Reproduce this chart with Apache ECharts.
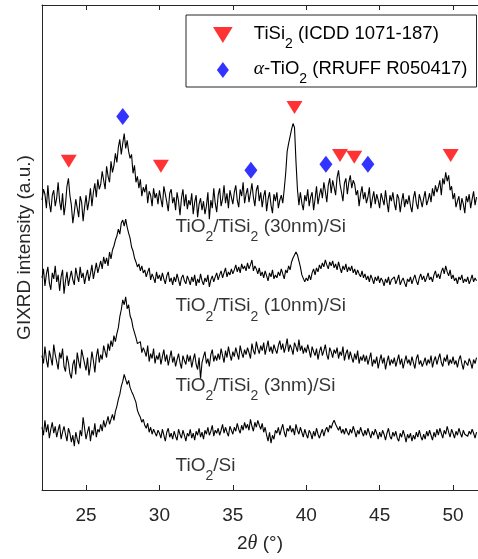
<!DOCTYPE html>
<html>
<head>
<meta charset="utf-8">
<script src="https://cdn.jsdelivr.net/npm/echarts@6/dist/echarts.min.js"></script>
<style>
  html, body { margin: 0; padding: 0; background: #fff; }
  #chart { width: 478px; height: 559px; }
</style>
</head>
<body>
<div id="chart"></div>
<script>
// GIXRD scans: 2θ from 22.0° in 0.1° steps, stacked intensities (a.u.)
const scanStart = 22.0;
const scanStep = 0.1;

const scanTiSi2_30nm = [
  291, 302, 297, 283, 306, 288, 279, 296, 301, 285,
  293, 309, 290, 281, 298, 276, 287, 305, 313, 296,
  286, 268, 279, 292, 283, 274, 295, 289, 270, 284,
  296, 281, 290, 303, 285, 299, 308, 294, 312, 302,
  307, 320, 311, 302, 325, 315, 309, 330, 319, 326,
  338, 329, 344, 352, 337, 348, 358, 343, 351, 340,
  333, 337, 318, 326, 309, 315, 303, 312, 295, 304,
  299, 307, 288, 300, 296, 285, 303, 293, 298, 287,
  301, 292, 284, 305, 297, 289, 280, 298, 302, 288,
  294, 281, 299, 290, 276, 293, 302, 285, 297, 282,
  291, 286, 298, 277, 289, 296, 274, 287, 293, 281,
  290, 277, 285, 299, 272, 291, 283, 303, 288, 279,
  296, 303, 285, 292, 306, 288, 298, 283, 301, 294,
  287, 299, 306, 291, 284, 302, 295, 309, 288, 297,
  303, 289, 298, 308, 294, 285, 301, 306, 290, 299,
  284, 295, 301, 280, 292, 299, 286, 278, 297, 290,
  299, 283, 291, 296, 288, 302, 318, 340, 348, 355,
  362, 368, 364, 330, 302, 286, 299, 288, 281, 296,
  290, 302, 285, 294, 299, 281, 292, 305, 287, 296,
  303, 293, 309, 300, 289, 306, 313, 298, 311, 304,
  296, 314, 321, 307, 299, 290, 308, 313, 297, 309,
  316, 303, 311, 307, 296, 301, 285, 297, 305, 292,
  299, 288, 294, 304, 283, 292, 300, 287, 297, 291,
  283, 298, 292, 286, 301, 289, 279, 296, 290, 299,
  288, 281, 297, 293, 279, 290, 298, 284, 292, 287,
  296, 285, 279, 293, 300, 288, 282, 297, 291, 284,
  293, 300, 286, 291, 298, 289, 303, 295, 306, 299,
  304, 311, 296, 313, 307, 319, 310, 316, 301, 305,
  292, 298, 284, 290, 295, 281, 293, 287, 278, 295,
  289, 297, 283, 292, 300, 286, 294
];

const scanTiSi2_10nm = [
  213, 222, 205, 217, 224, 208, 201, 218, 212, 225,
  209, 216, 200, 214, 221, 197, 210, 219, 205, 213,
  220, 211, 206, 223, 215, 209, 224, 213, 218, 207,
  215, 221, 210, 217, 226, 212, 220, 228, 218, 224,
  230, 222, 234, 227, 233, 225, 239, 232, 241, 245,
  251, 255, 262, 257, 268, 271, 265, 272, 264, 258,
  253, 244, 240, 233, 229, 224, 227, 220, 225, 218,
  221, 214, 219, 223, 211, 217, 213, 208, 219, 212,
  216, 210, 218, 212, 207, 215, 219, 209, 213, 206,
  214, 209, 217, 211, 205, 213, 216, 210, 207, 215,
  211, 206, 214, 209, 216, 205, 212, 208, 217, 210,
  206, 213, 209, 216, 204, 211, 215, 209, 214, 218,
  211, 216, 220, 213, 218, 223, 214, 219, 216, 222,
  217, 221, 226, 219, 224, 218, 227, 222, 225, 220,
  228, 222, 226, 231, 220, 225, 222, 217, 223, 215,
  219, 213, 220, 215, 210, 218, 214, 221, 212, 216,
  213, 219, 215, 222, 217, 212, 221, 218, 225, 221,
  229, 233, 236, 239, 236, 230, 224, 216, 218, 209,
  213, 210, 216, 211, 218, 222, 216, 223, 219, 226,
  222, 228, 224, 231, 226, 222, 229, 225, 230, 223,
  227, 221, 229, 223, 218, 225, 221, 227, 219, 224,
  220, 225, 218, 222, 216, 221, 217, 214, 220, 213,
  217, 211, 215, 209, 216, 212, 207, 214, 210, 215,
  208, 213, 210, 205, 212, 208, 214, 206, 211, 209,
  214, 207, 211, 216, 206, 210, 213, 208, 204, 212,
  209, 214, 207, 212, 216, 210, 206, 213, 217, 211,
  215, 209, 213, 218, 211, 214, 209, 216, 220, 213,
  217, 212, 219, 223, 217, 225, 219, 215, 221, 212,
  216, 210, 213, 207, 214, 211, 216, 208, 212, 209,
  214, 207, 211, 216, 209, 213, 210
];

const scanTiSi2_3nm = [
  135, 127, 144, 131, 123, 140, 133, 125, 146, 136,
  129, 121, 138, 132, 142, 124, 119, 135, 128, 117,
  112, 126, 131, 116, 138, 129, 122, 141, 134, 127,
  120, 133, 115, 125, 139, 130, 118, 134, 142, 128,
  136, 131, 145, 139, 133, 147, 140, 150, 144, 155,
  149, 157, 163, 174, 181, 191, 186, 194, 182, 186,
  175, 171, 163, 158, 153, 147, 145, 149, 138, 143,
  139, 134, 145, 129, 137, 132, 142, 127, 135, 131,
  138, 126, 134, 141, 129, 136, 125, 133, 140, 128,
  134, 124, 131, 137, 128, 122, 135, 130, 126, 136,
  129, 135, 123, 131, 137, 126, 121, 133, 112, 128,
  134, 139, 127, 132, 124, 136, 141, 129, 135, 130,
  137, 131, 142, 135, 128, 140, 133, 144, 136, 130,
  139, 134, 143, 137, 131, 145, 138, 133, 141, 136,
  143, 138, 132, 147, 140, 136, 149, 142, 137, 145,
  140, 148, 136, 143, 150, 139, 144, 137, 146, 141,
  137, 145, 150, 141, 147, 138, 144, 152, 139, 146,
  142, 136, 148, 144, 139, 151, 140, 145, 137, 143,
  138, 146, 140, 133, 144, 139, 135, 142, 131, 139,
  144, 135, 140, 146, 136, 131, 143, 139, 133, 141,
  137, 143, 132, 139, 135, 144, 130, 137, 141, 131,
  139, 133, 128, 137, 131, 140, 127, 134, 130, 136,
  129, 135, 126, 132, 138, 124, 131, 127, 134, 122,
  130, 136, 127, 133, 121, 129, 135, 125, 131, 127,
  133, 124, 130, 136, 126, 132, 122, 129, 135, 127,
  131, 125, 134, 128, 122, 132, 136, 126, 130, 124,
  128, 133, 125, 131, 127, 135, 123, 130, 134, 126,
  132, 137, 128, 124, 133, 129, 136, 125, 131, 127,
  134, 126, 130, 123, 131, 135, 127, 121, 130, 128,
  125, 132, 128, 122, 131, 127, 133
];

const scanTiO2_Si = [
  63, 55, 70, 58, 66, 52, 61, 68, 57, 64,
  53, 60, 66, 51, 58, 64, 56, 49, 62, 57,
  48, 55, 44, 58, 51, 46, 60, 54, 73, 62,
  51, 58, 64, 49, 60, 55, 67, 53, 61, 58,
  66, 59, 70, 63, 68, 74, 66, 71, 76, 70,
  79, 84, 91, 96, 104, 109, 116, 111, 106, 110,
  103, 99, 96, 92, 88, 80, 76, 73, 68, 71,
  65, 62, 67, 58, 63, 56, 61, 59, 54, 60,
  57, 52, 61, 55, 49, 58, 62, 53, 57, 51,
  59, 54, 50, 61, 56, 52, 60, 55, 49, 57,
  54, 61, 52, 57, 50, 59, 55, 62, 53, 58,
  51, 60, 56, 63, 55, 59, 65, 54, 60, 57,
  62, 55, 60, 66, 57, 63, 58, 54, 64, 60,
  56, 63, 59, 67, 61, 57, 65, 60, 68, 62,
  66, 60, 71, 64, 59, 68, 63, 70, 65, 61,
  67, 58, 63, 55, 49, 58, 47, 55, 51, 60,
  57, 63, 55, 61, 66, 58, 53, 62, 59, 65,
  58, 62, 55, 66, 60, 56, 63, 58, 53, 61,
  56, 52, 60, 57, 51, 59, 54, 62, 56, 52,
  57, 61, 54, 60, 63, 58, 65, 62, 67, 70,
  66, 63, 60, 64, 57, 61, 56, 62, 58, 55,
  61, 57, 64, 59, 53, 60, 56, 63, 58, 54,
  60, 55, 62, 57, 52, 59, 55, 61, 57, 51,
  58, 53, 60, 56, 50, 57, 62, 54, 51, 58,
  54, 59, 52, 49, 57, 53, 60, 55, 48, 56,
  52, 57, 49, 55, 51, 58, 53, 60, 54, 50,
  56, 51, 59, 54, 60, 55, 50, 58, 53, 61,
  55, 62, 57, 52, 60, 56, 64, 58, 53, 61,
  57, 52, 59, 55, 62, 57, 53, 60, 56, 58,
  54, 59, 56, 61, 57, 52, 58
];

// Reference peak positions [2θ, marker height]
const tiSi2Peaks = [[23.82, 330], [30.1, 325], [39.2, 384], [42.3, 336], [43.27, 334], [49.84, 336]];
const tiO2Peaks = [[27.5, 375], [36.23, 321], [41.34, 327], [44.2, 327]];

// Sample names placed beneath each scan [2θ, height, name]
const sampleLabels = [
  [31.1, 263, 'TiO{s|2}/TiSi{s|2} (30nm)/Si'],
  [31.1, 183, 'TiO{s|2}/TiSi{s|2} (10nm)/Si'],
  [31.1, 103, 'TiO{s|2}/TiSi{s|2} (3nm)/Si'],
  [31.1, 23, 'TiO{s|2}/Si']
];

const tickValues = [25, 30, 35, 40, 45, 50];

const FONT = 'Liberation Sans';
const INK = '#262626';

function toPoints(values) {
  return values.map((v, i) => [+(scanStart + i * scanStep).toFixed(2), v]);
}

// rich-text styles: n = normal run, s = subscript, g = Greek letter
function richStyles(size) {
  return {
    s: { fontSize: Math.round(size * 0.74), fontFamily: FONT, color: '#000', padding: [13, 0, 0, 0], verticalAlign: 'top', lineHeight: 16 },
    n: { fontSize: size, fontFamily: FONT, color: '#000', verticalAlign: 'top', lineHeight: 22 },
    g: { fontSize: size + 1, fontFamily: 'Liberation Serif', fontStyle: 'italic', color: '#000', verticalAlign: 'top', lineHeight: 22 }
  };
}

function wrapPlain(str) {
  // wrap the plain runs between subscripts so every run shares the same line alignment
  return str.split(/(\{[a-z]\|[^}]*\})/).map(part => {
    if (!part) return '';
    if (part.startsWith('{')) return part;
    return '{n|' + part + '}';
  }).join('');
}

const TISI2_NAME = 'TiSi2 (ICDD 1071-187)';
const TIO2_NAME = 'alpha-TiO2 (RRUFF R050417)';

const legendText = {
  [TISI2_NAME]: wrapPlain('TiSi{s|2} (ICDD 1071-187)'),
  [TIO2_NAME]: '{g|α}' + wrapPlain('-TiO{s|2} (RRUFF R050417)')
};

const downTriangle = 'path://M0,0 L16,0 L8,13 Z';
const diamond = 'path://M6,0 L12,8 L6,16 L0,8 Z';

const traceSeries = [scanTiSi2_30nm, scanTiSi2_10nm, scanTiSi2_3nm, scanTiO2_Si].map((vals, k) => ({
  name: 'scan' + k,
  type: 'line',
  data: toPoints(vals),
  showSymbol: false,
  symbol: 'none',
  lineStyle: { color: '#000', width: 1.1 },
  z: 2,
  silent: true
}));

const chart = echarts.init(document.getElementById('chart'), null, { renderer: 'canvas' });

chart.setOption({
  animation: false,
  backgroundColor: '#fff',
  grid: { left: 42, right: 0, top: 5, bottom: 67, containLabel: false },
  xAxis: [{
    type: 'value', min: 22, max: 51.7, position: 'bottom',
    axisLine: { show: true, onZero: false, lineStyle: { color: INK, width: 1 } },
    axisTick: { show: true, inside: true, length: 5, customValues: tickValues, lineStyle: { color: INK } },
    axisLabel: { show: true, customValues: tickValues, margin: 16, fontSize: 19, fontFamily: FONT, color: INK },
    splitLine: { show: false },
    name: '2{th|θ} (°)', nameLocation: 'middle', nameGap: 44,
    nameTextStyle: {
      fontSize: 19, fontFamily: FONT, color: INK,
      rich: { th: { fontSize: 20, fontFamily: 'Liberation Serif', fontStyle: 'italic', color: INK } }
    }
  }, {
    type: 'value', min: 22, max: 51.7, position: 'top',
    axisLine: { show: true, onZero: false, lineStyle: { color: INK, width: 1 } },
    axisTick: { show: true, inside: true, length: 5, customValues: tickValues, lineStyle: { color: INK } },
    axisLabel: { show: false },
    splitLine: { show: false }
  }],
  yAxis: {
    type: 'value', min: 0, max: 487,
    axisLine: { show: true, onZero: false, lineStyle: { color: INK, width: 1 } },
    axisTick: { show: false },
    axisLabel: { show: false },
    splitLine: { show: false },
    name: 'GIXRD intensity (a.u.)', nameLocation: 'middle', nameGap: 8,
    nameTextStyle: { fontSize: 19, fontFamily: FONT, color: INK }
  },
  legend: {
    data: [TISI2_NAME, TIO2_NAME],
    orient: 'vertical', left: 186, top: 15,
    padding: [9, 9, 1, 27], itemGap: 8,
    itemWidth: 52, itemHeight: 16,
    borderColor: INK, borderWidth: 1, backgroundColor: '#fff',
    formatter: name => legendText[name],
    textStyle: { fontSize: 18.5, fontFamily: FONT, color: '#000', rich: richStyles(18.5) }
  },
  series: [
    ...traceSeries,
    {
      name: TISI2_NAME, type: 'scatter', data: tiSi2Peaks,
      symbol: downTriangle, symbolSize: [16, 13],
      itemStyle: { color: '#ff0000' }, z: 5
    },
    {
      name: TIO2_NAME, type: 'scatter', data: tiO2Peaks,
      symbol: diamond, symbolSize: [13, 17],
      itemStyle: { color: '#0000ff' }, z: 5
    },
    {
      name: 'sampleNames', type: 'scatter', symbolSize: 0, silent: true,
      data: sampleLabels.map(d => ({ value: [d[0], d[1]], name: d[2] })),
      label: {
        show: true, position: 'right', distance: 0,
        formatter: p => wrapPlain(p.name),
        rich: richStyles(19)
      },
      z: 6
    }
  ]
});
</script>
</body>
</html>
